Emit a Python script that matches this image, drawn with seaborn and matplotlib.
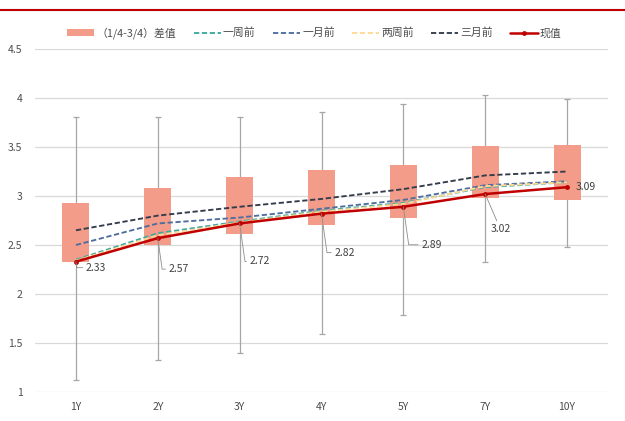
import numpy as np
import pandas as pd
import matplotlib
matplotlib.use("Agg")
import matplotlib.pyplot as plt
from matplotlib.lines import Line2D
from matplotlib.patches import Patch
import seaborn as sns

# ---------------- data ----------------
tenors = ["1Y", "2Y", "3Y", "4Y", "5Y", "7Y", "10Y"]
q1 = [2.33, 2.50, 2.61, 2.70, 2.78, 2.98, 2.96]       # 1/4 quantile
q3 = [2.93, 3.08, 3.19, 3.27, 3.32, 3.51, 3.52]       # 3/4 quantile
wmin = [1.12, 1.33, 1.40, 1.59, 1.79, 2.33, 2.48]     # whisker low
wmax = [3.81, 3.81, 3.81, 3.86, 3.94, 4.03, 3.99]     # whisker high
week1 = [2.35, 2.62, 2.74, 2.85, 2.93, 3.09, 3.14]    # 一周前
month1 = [2.50, 2.72, 2.78, 2.87, 2.96, 3.11, 3.15]   # 一月前
week2 = [2.34, 2.60, 2.73, 2.84, 2.92, 3.10, 3.14]    # 两周前
month3 = [2.65, 2.80, 2.89, 2.97, 3.07, 3.21, 3.25]   # 三月前
current = [2.33, 2.57, 2.72, 2.82, 2.89, 3.02, 3.09]  # 现值
yticks = [1, 1.5, 2, 2.5, 3, 3.5, 4, 4.5]
ytick_labels = ["1", "1.5", "2", "2.5", "3", "3.5", "4", "4.5"]

names = ["（1/4-3/4）差值", "一周前", "一月前", "两周前", "三月前", "现值"]

# ---------------- style ----------------
sns.set_theme(style="white")
plt.rcParams["font.family"] = ["Noto Sans CJK SC", "DejaVu Sans"]

c_box = "#F29C89"
c_whisk = "#A6A6A6"
c_week1 = "#3EA8A0"
c_month1 = "#4F6E9E"
c_week2 = "#FFD995"
c_month3 = "#333C4B"
c_cur = "#C00000"
c_text = "#4D4D4D"

W, H = 625, 421
fig = plt.figure(figsize=(W / 100, H / 100), dpi=100)
ax = fig.add_axes([35 / W, 1 - 392 / H, (608 - 35) / W, (392 - 49) / H])

df = pd.DataFrame({"tenor": tenors, "q1": q1, "q3": q3, "wmin": wmin, "wmax": wmax,
                   "week1": week1, "month1": month1, "week2": week2,
                   "month3": month3, "current": current})
df["iqr"] = df["q3"] - df["q1"]
df["mid"] = (df["wmin"] + df["wmax"]) / 2

# whiskers
ax.errorbar(df["tenor"], df["mid"],
            yerr=[df["mid"] - df["wmin"], df["wmax"] - df["mid"]],
            fmt="none", ecolor=c_whisk, elinewidth=0.9, capsize=2.2,
            capthick=0.9, zorder=1)

# boxes
sns.barplot(data=df, x="tenor", y="iqr", bottom=df["q1"].values, width=0.33,
            color=c_box, saturation=1, errorbar=None, ax=ax, zorder=2,
            linewidth=0)

dash = (0, (2.8, 1.4))
for col, colr in [("week1", c_week1), ("month1", c_month1),
                  ("week2", c_week2), ("month3", c_month3)]:
    sns.lineplot(data=df, x="tenor", y=col, color=colr, linewidth=1.35,
                 linestyle=dash, sort=False, ax=ax, zorder=3)

sns.lineplot(data=df, x="tenor", y="current", color=c_cur, linewidth=1.8,
             marker="o", markersize=3.5, markeredgewidth=0, sort=False,
             ax=ax, zorder=4)

# data labels (pixel offsets of label from point)
px2pt = 0.72
offsets = [(10, -6), (11, -31), (10, -38), (13, -39), (18, -38), (16, -35), (9, 0)]
for i, v in enumerate(current):
    dx, dy = offsets[i]
    if i == len(current) - 1:
        ax.annotate(f"{v:.2f}", xy=(i, v), xytext=(dx * px2pt, dy * px2pt),
                    textcoords="offset points", ha="left", va="center",
                    fontsize=7.5, color="#404040", zorder=5)
    elif i == 5:
        ax.annotate(f"{v:.2f}", xy=(i, v), xytext=(dx * px2pt, dy * px2pt),
                    textcoords="offset points", ha="center", va="center",
                    fontsize=7.5, color="#404040", zorder=5,
                    arrowprops=dict(arrowstyle="-", color="#8c8c8c", lw=0.6,
                                    shrinkA=0, shrinkB=0, relpos=(0.35, 1.0),
                                    connectionstyle="arc3"))
    else:
        ax.annotate(f"{v:.2f}", xy=(i, v), xytext=(dx * px2pt, dy * px2pt),
                    textcoords="offset points", ha="left", va="center",
                    fontsize=7.5, color="#404040", zorder=5,
                    arrowprops=dict(arrowstyle="-", color="#8c8c8c", lw=0.6,
                                    shrinkA=0, shrinkB=0, relpos=(0.0, 0.5),
                                    connectionstyle="angle,angleA=0,angleB=98,rad=0"))

# axes styling
ax.set_xlim(-0.5, len(tenors) - 0.5)
ax.set_ylim(1, 4.5)
ax.set_yticks(yticks)
ax.set_yticklabels(ytick_labels)
ax.set_xlabel("")
ax.set_ylabel("")
ax.grid(axis="y", color="#D9D9D9", linewidth=0.9)
ax.grid(axis="x", visible=False)
ax.set_axisbelow(True)
for s in ax.spines.values():
    s.set_visible(False)
ax.tick_params(axis="y", length=0, pad=9, labelsize=7.5, labelcolor=c_text)
ax.tick_params(axis="x", length=0, pad=7, labelsize=7.5, labelcolor=c_text)

# legend
handles = [
    Patch(facecolor=c_box, edgecolor="none"),
    Line2D([], [], color=c_week1, lw=1.35, linestyle=dash),
    Line2D([], [], color=c_month1, lw=1.35, linestyle=dash),
    Line2D([], [], color=c_week2, lw=1.35, linestyle=dash),
    Line2D([], [], color=c_month3, lw=1.35, linestyle=dash),
    Line2D([], [], color=c_cur, lw=1.8, marker="o", markersize=3.5, markeredgewidth=0),
]
fig.legend(handles, names, loc="center", bbox_to_anchor=(0.503, 1 - 33 / H),
           ncol=6, frameon=False, fontsize=7.8, handlelength=2.5,
           handletextpad=0.2, columnspacing=1.6, labelcolor=c_text,
           borderaxespad=0, borderpad=0)

# top decorative rule
fig.add_artist(Line2D([0, 1], [1 - 10 / H, 1 - 10 / H], transform=fig.transFigure,
                      color=c_cur, lw=1.5))

fig.savefig("out.png", dpi=100, facecolor="white")
